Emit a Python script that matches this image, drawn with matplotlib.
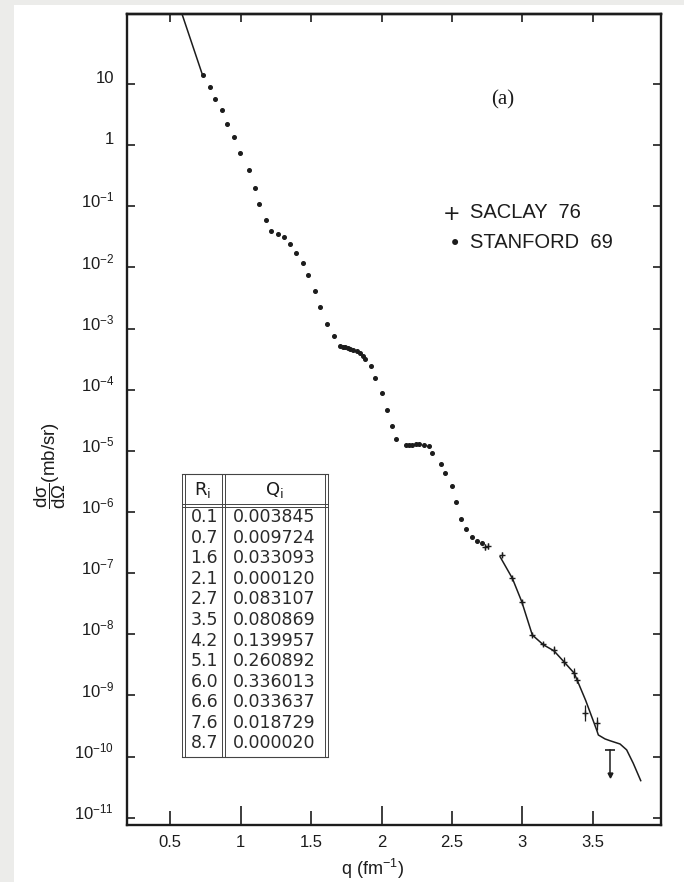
import matplotlib
matplotlib.use('Agg')
import matplotlib.pyplot as plt
import matplotlib.font_manager as fm
from matplotlib.patches import Rectangle
from matplotlib.transforms import ScaledTranslation
from matplotlib.ticker import NullLocator

# ---- data ----
# Stanford 69 (dots)
q_stanford = [0.729, 0.779, 0.814, 0.869, 0.902, 0.951, 0.997, 1.056, 1.098, 1.132,
              1.179, 1.215, 1.265, 1.306, 1.352, 1.392, 1.439, 1.477, 1.529, 1.565,
              1.616, 1.659, 1.707, 1.725, 1.742, 1.760, 1.778, 1.800, 1.825, 1.848,
              1.868, 1.885, 1.924, 1.955, 2.001, 2.037, 2.071, 2.105, 2.173, 2.196,
              2.218, 2.242, 2.266, 2.303, 2.334, 2.359, 2.421, 2.452, 2.498, 2.529,
              2.566, 2.603, 2.641, 2.677, 2.712]
xs_stanford = [13.9, 8.83, 5.69, 3.69, 2.22, 1.36, 0.745, 0.397, 0.199, 0.108,
               6.08e-2, 3.94e-2, 3.52e-2, 3.09e-2, 2.39e-2, 1.72e-2, 1.17e-2, 7.60e-3, 4.17e-3, 2.28e-3,
               1.19e-3, 7.57e-4, 5.19e-4, 5.06e-4, 4.94e-4, 4.81e-4, 4.69e-4, 4.54e-4, 4.36e-4, 3.98e-4,
               3.56e-4, 3.16e-4, 2.47e-4, 1.57e-4, 8.69e-5, 4.67e-5, 2.55e-5, 1.55e-5, 1.25e-5, 1.26e-5,
               1.27e-5, 1.29e-5, 1.28e-5, 1.25e-5, 1.20e-5, 9.14e-6, 6.04e-6, 4.41e-6, 2.67e-6, 1.48e-6,
               7.62e-7, 5.19e-7, 3.86e-7, 3.40e-7, 3.08e-7]

# Saclay 76 (crosses with error bars)
q_saclay = [2.736, 2.759, 2.853, 2.927, 2.996, 3.071, 3.149, 3.225, 3.296, 3.369, 3.386, 3.445, 3.528]
xs_saclay = [2.71e-7, 2.78e-7, 1.99e-7, 8.26e-8, 3.42e-8, 9.75e-9, 6.95e-9, 5.55e-9, 3.57e-9,
             2.31e-9, 1.79e-9, 5.12e-10, 3.51e-10]
saclay_lo = [2.44e-7, 2.48e-7, 1.81e-7, 7.70e-8, 3.19e-8, 9.10e-9, 6.49e-9, 4.72e-9, 3.04e-9,
             1.92e-9, 1.63e-9, 3.80e-10, 2.72e-10]
saclay_hi = [3.01e-7, 3.12e-7, 2.18e-7, 8.85e-8, 3.66e-8, 1.04e-8, 7.45e-9, 6.52e-9, 4.19e-9,
             2.78e-9, 1.96e-9, 6.90e-10, 4.53e-10]

# upper limit point
q_limit = 3.62
limit_lo, limit_hi = 5.0e-11, 1.29e-10

# fitted curve (visible parts)
q_fit_low = [0.57, 0.729]
xs_fit_low = [171.0, 13.9]
q_fit_high = [2.842, 2.929, 2.996, 3.071, 3.149, 3.225, 3.296, 3.369, 3.45, 3.528,
              3.540, 3.587, 3.623, 3.694, 3.741, 3.788, 3.841]
xs_fit_high = [1.86e-7, 8.26e-8, 3.42e-8, 9.75e-9, 6.76e-9, 5.37e-9, 3.55e-9, 2.31e-9, 8.3e-10, 2.73e-10,
               2.26e-10, 1.95e-10, 1.82e-10, 1.61e-10, 1.29e-10, 7.78e-11, 4.05e-11]

# table
R_vals = ['0.1', '0.7', '1.6', '2.1', '2.7', '3.5', '4.2', '5.1', '6.0', '6.6', '7.6', '8.7']
Q_vals = ['0.003845', '0.009724', '0.033093', '0.000120', '0.083107', '0.080869',
          '0.139957', '0.260892', '0.336013', '0.033637', '0.018729', '0.000020']

q_major = [1, 2, 3]
q_minor = [0.5, 1.5, 2.5, 3.5]
y_exps = list(range(1, -12, -1))

# ---- fonts ----
names = {f.name for f in fm.fontManager.ttflist}
sans = 'Liberation Sans' if 'Liberation Sans' in names else 'DejaVu Sans'
plt.rcParams['font.family'] = [sans, 'DejaVu Sans']
plt.rcParams['mathtext.fontset'] = 'custom'
plt.rcParams['mathtext.rm'] = sans
plt.rcParams['mathtext.it'] = sans + ':italic'
plt.rcParams['mathtext.sf'] = sans

W, H = 684, 882
ink = '#1c1c1c'


def fx(x):
    return x / W


def fy(y):
    return 1 - y / H


fig = plt.figure(figsize=(W / 100, H / 100), dpi=100)
fig.patch.set_facecolor('white')
# scanned page margins
fig.add_artist(Rectangle((0, 0), fx(14), 1, transform=fig.transFigure, color='#ececea', lw=0, zorder=0))
fig.add_artist(Rectangle((0, fy(5)), 1, 1 - fy(5), transform=fig.transFigure, color='#ececea', lw=0, zorder=0))

left, right, top, bottom = 126.7, 661, 14, 825
ax = fig.add_axes([fx(left), fy(bottom), fx(right - left), fy(top) - fy(bottom)])
ax.set_yscale('log')
ax.set_xlim(0.19, 3.985)
ax.set_ylim(10 ** -11.118, 10 ** 2.145)

# curve
ax.plot(q_fit_low, xs_fit_low, color=ink, lw=1.1, zorder=2)
ax.plot(q_fit_high, xs_fit_high, color=ink, lw=1.1, zorder=2)

# data
ax.plot(q_stanford, xs_stanford, ls='none', marker='o', ms=2.6, color=ink, zorder=3)
yerr = [[v - lo for v, lo in zip(xs_saclay, saclay_lo)],
        [hi - v for v, hi in zip(xs_saclay, saclay_hi)]]
ax.errorbar(q_saclay, xs_saclay, yerr=yerr, fmt='+', ms=5, mew=1.0, color=ink,
            elinewidth=0.9, capsize=0, zorder=3)
# upper limit: bar with cap on top, arrow at the bottom
ax.plot([q_limit, q_limit], [limit_lo, limit_hi], color=ink, lw=1.1, zorder=3)
ax.plot([q_limit], [limit_hi], marker='_', ms=7, mew=1.2, color=ink, zorder=3)
ax.plot([q_limit], [limit_lo], marker='v', ms=3.5, color=ink, zorder=3)

# axes styling
for s in ax.spines.values():
    s.set_linewidth(1.7)
    s.set_color(ink)

ax.set_xticks(q_major)
ax.set_xticklabels([str(v) for v in q_major])
ax.set_xticks(q_minor, minor=True)
ax.set_xticklabels([str(v) for v in q_minor], minor=True)
ax.tick_params(axis='x', which='major', direction='in', length=14, width=1.2, pad=7,
               labelsize=12, colors=ink, top=False)
ax.tick_params(axis='x', which='minor', direction='in', length=10, width=1.2, pad=7,
               labelsize=12, colors=ink, top=False)

ax.set_yticks([10.0 ** k for k in y_exps])
ylabels = []
for k in y_exps:
    if k == 1:
        ylabels.append('10')
    elif k == 0:
        ylabels.append('1')
    else:
        ylabels.append(r'10$^{\mathregular{%d}}$' % k)
ax.set_yticklabels(ylabels)
ax.yaxis.set_minor_locator(NullLocator())
ax.tick_params(axis='y', direction='in', length=6, width=1.2, pad=9, labelsize=12,
               colors=ink, right=True)
for lab in ax.get_yticklabels():
    lab.set_transform(lab.get_transform() + ScaledTranslation(0, 7 / 100, fig.dpi_scale_trans))

sec = ax.secondary_xaxis('top')
sec.set_xticks(q_major + q_minor)
sec.tick_params(direction='in', length=6, width=1.2, labeltop=False, colors=ink)
sec.spines['top'].set_linewidth(1.7)

# labels
fig.text(fx(372), fy(869), r'q (fm$^{\mathregular{-1}}$)', ha='center', va='center',
         fontsize=13, color=ink)
fig.text(fx(50), fy(465), r'$\dfrac{\mathrm{d\sigma}}{\mathrm{d\Omega}}$(mb/sr)', rotation=90,
         ha='center', va='center', fontsize=13.5, color=ink)
fig.text(fx(503), fy(100), '(a)', ha='center', va='center', fontsize=15,
         family='Liberation Serif', color=ink)

# legend
fig.text(fx(452), fy(214), '+', ha='center', va='center', fontsize=15, family='DejaVu Sans', color=ink)
fig.text(fx(470), fy(213), 'SACLAY  76', ha='left', va='center', fontsize=14.5, color=ink)
fig.text(fx(455), fy(244), '\u2022', ha='center', va='center', fontsize=15, family='DejaVu Sans', color=ink)
fig.text(fx(470), fy(243), 'STANFORD  69', ha='left', va='center', fontsize=14.5, color=ink)

# table of R_i, Q_i
t_left, t_right, t_div = 182, 325, 222.5
t_top, t_head, t_bottom = 474, 504, 757
for x0 in (t_left, t_div, t_right):
    for dx in (0, 2.5):
        fig.add_artist(plt.Line2D([fx(x0 + dx), fx(x0 + dx)], [fy(t_top), fy(t_bottom)],
                                  transform=fig.transFigure, color='#444444', lw=0.7))
for y0 in (t_top, t_bottom):
    fig.add_artist(plt.Line2D([fx(t_left), fx(t_right + 2.5)], [fy(y0), fy(y0)],
                              transform=fig.transFigure, color='#444444', lw=0.8))
for dy in (0, 2.5):
    fig.add_artist(plt.Line2D([fx(t_left), fx(t_right + 2.5)], [fy(t_head + dy), fy(t_head + dy)],
                              transform=fig.transFigure, color='#444444', lw=0.7))
fig.text(fx(203), fy(490), r'R$_{\mathregular{i}}$', ha='center', va='center', fontsize=13,
         family='DejaVu Sans', color=ink)
fig.text(fx(274), fy(490), r'Q$_{\mathregular{i}}$', ha='center', va='center', fontsize=13,
         family='DejaVu Sans', color=ink)
row_h = 20.55
for i, (r, qv) in enumerate(zip(R_vals, Q_vals)):
    yy = 517.3 + i * row_h
    fig.text(fx(218), fy(yy), r, ha='right', va='center', fontsize=12.5,
             family='DejaVu Sans', color='#2a2a2a')
    fig.text(fx(274), fy(yy), qv, ha='center', va='center', fontsize=12.5,
             family='DejaVu Sans', color='#2a2a2a')

fig.savefig('out.png', dpi=100)
